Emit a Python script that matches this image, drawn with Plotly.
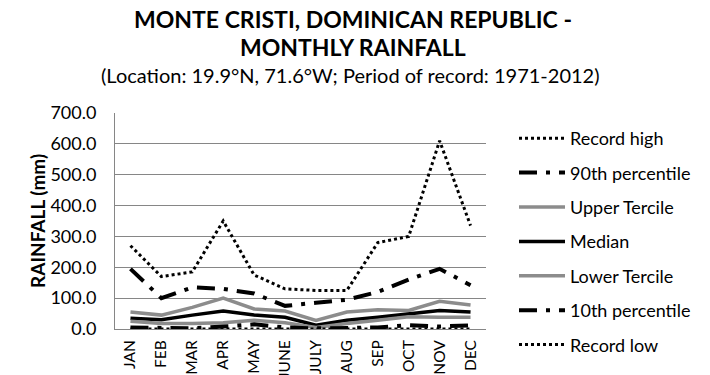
import plotly.graph_objects as go

months = ["JAN", "FEB", "MAR", "APR", "MAY", "JUNE", "JULY", "AUG", "SEP", "OCT", "NOV", "DEC"]
record_high = [270, 170, 185, 350, 175, 130, 125, 125, 280, 300, 610, 335]
p90 = [195, 100, 135, 130, 115, 75, 85, 95, 120, 160, 195, 142]
upper_tercile = [55, 45, 70, 100, 65, 58, 28, 55, 62, 60, 90, 78]
median = [35, 30, 45, 58, 45, 38, 12, 28, 38, 48, 60, 55]
lower_tercile = [25, 18, 18, 20, 28, 20, 5, 18, 28, 40, 38, 38]
p10 = [5, 3, 2, 8, 15, 5, 2, 3, 5, 12, 8, 12]
record_low = [0, 0, 0, 0, 0, 0, 0, 0, 0, 0, 0, 0]

series = [
    ("Record high", record_high, "black", "dot", 3),
    ("90th percentile", p90, "black", "18px,9px,4px,9px", 4),
    ("Upper Tercile", upper_tercile, "#8c8c8c", "solid", 3.5),
    ("Median", median, "black", "solid", 3.5),
    ("Lower Tercile", lower_tercile, "#8c8c8c", "solid", 3.5),
    ("10th percentile", p10, "black", "18px,9px,4px,9px", 4),
    ("Record low", record_low, "black", "dot", 3),
]

FONT = "Lato"
fig = go.Figure()
for i, (name, vals, col, dash, w) in enumerate(series):
    fig.add_trace(go.Scatter(x=months, y=vals, name=name, mode="lines",
                             line=dict(color=col, dash=dash, width=w),
                             legendgroup=f"g{i}"))

OFF = 8  # page body margin
W, H = 710 - OFF, 375 - OFF
L = 115 - OFF
T = 113 - OFF
R = W - (486 - OFF)
B = H - (329 - OFF)
pw = W - L - R
ph = H - T - B

def px_x(p):
    return (p - OFF - L) / pw

def px_y(p):
    return (H - B - (p - OFF)) / ph

fig.update_layout(
    width=W, height=H,
    margin=dict(l=L, r=R, t=T, b=B, autoexpand=False),
    paper_bgcolor="white", plot_bgcolor="white",
    font=dict(family=FONT, color="black", size=17),
    showlegend=True,
    legend=dict(x=px_x(514), y=px_y(120), xanchor="left", yanchor="top",
                font=dict(size=18, family=FONT), itemwidth=46,
                tracegroupgap=8, bgcolor="rgba(0,0,0,0)", maxheight=1000),
    xaxis=dict(tickangle=-90, tickfont=dict(size=15.5, family=FONT),
               showline=True, linecolor="#868686", linewidth=1,
               showgrid=False, ticks="", range=[-0.5, 11.5], automargin=False,
               ticklabelstandoff=4),
    yaxis=dict(range=[0, 700], dtick=100, tickformat=".1f",
               showgrid=True, gridcolor="#868686", gridwidth=1,
               showline=True, linecolor="#868686", linewidth=1,
               zeroline=False, ticks="", tickfont=dict(size=18, family=FONT),
               automargin=False, ticklabelstandoff=14),
    shapes=[dict(type="line", xref="paper", yref="paper",
                 x0=px_x(706), x1=px_x(706), y0=px_y(380), y1=px_y(0),
                 line=dict(color="#868686", width=2), layer="above")],
    annotations=[
        dict(text="<b>MONTE CRISTI, DOMINICAN REPUBLIC -</b>", xref="paper", yref="paper",
             x=px_x(353), y=px_y(19), showarrow=False, font=dict(size=23, family=FONT),
             xanchor="center", yanchor="middle"),
        dict(text="<b>MONTHLY RAINFALL</b>", xref="paper", yref="paper",
             x=px_x(353), y=px_y(47), showarrow=False, font=dict(size=23, family=FONT),
             xanchor="center", yanchor="middle"),
        dict(text="(Location: 19.9°N, 71.6°W; Period of record: 1971-2012)", xref="paper", yref="paper",
             x=px_x(350), y=px_y(75), showarrow=False, font=dict(size=20, family=FONT),
             xanchor="center", yanchor="middle"),
        dict(text="<b>RAINFALL (mm)</b>", xref="paper", yref="paper",
             x=px_x(37), y=px_y(221), showarrow=False, textangle=-90,
             font=dict(size=19, family=FONT), xanchor="center", yanchor="middle"),
    ],
)

fig.write_html("out.html")
